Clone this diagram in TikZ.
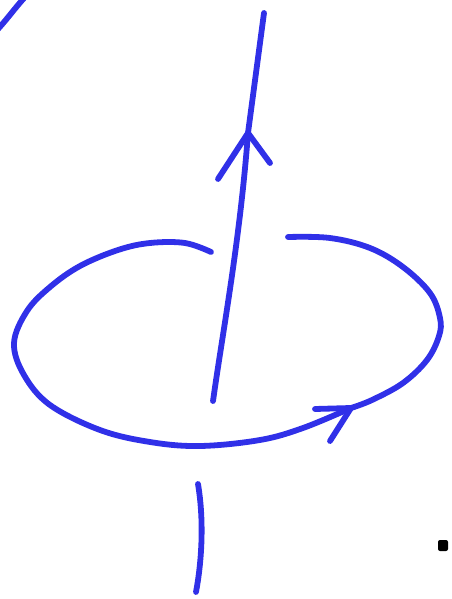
\documentclass[tikz,border=0pt]{standalone}
\usetikzlibrary{positioning}
\definecolor{penblue}{RGB}{48,48,232}

\begin{document}
\begin{tikzpicture}[x=0.5pt,y=-0.5pt,line cap=round,line join=round,
        pen/.style={draw=penblue,line width=2.9pt}]
        \useasboundingbox (0,0) rectangle (451,599);
        \coordinate (axisbot) at (213,401);
        \coordinate (axishead) at (248,133);
        \coordinate (axistop) at (264,13);
        \coordinate (loopstart) at (211,252);
        \coordinate (loophead) at (351,408);
        \coordinate (loopend) at (288,237);
        % axis with its arrow
        \draw[pen] (axisbot) .. controls (223,330) and (240,240) .. (axishead) -- (axistop);
        \draw[pen] (218,179) -- (axishead) -- (270,163);
        % loop round the axis
        \draw[pen] plot[smooth,tension=0.6] coordinates {(loopstart) (185,243) (150,243) (118,250) (80,266) (50,287) (27,311) (14,343) (24,375) (50,405) (100,430) (150,442) (200,446) (260,440) (303,428) (loophead)};
        \draw[pen] plot[smooth,tension=0.6] coordinates {(loophead) (372,400) (403,383) (427,360) (439,336) (440,318) (430,293) (403,267) (370,248) (330,238) (loopend)};
        \draw[pen] (315,409) -- (loophead) -- (330,441);
        % stub below
        \draw[pen] (198,484) .. controls (204,520) and (202,560) .. (196,592);
        \draw[pen] (-2,29) .. controls (8,18) and (15,8) .. (25,-3);
        \fill[black,rounded corners=1pt] (438,540) rectangle (448,551);
    \end{tikzpicture}
\end{document}
